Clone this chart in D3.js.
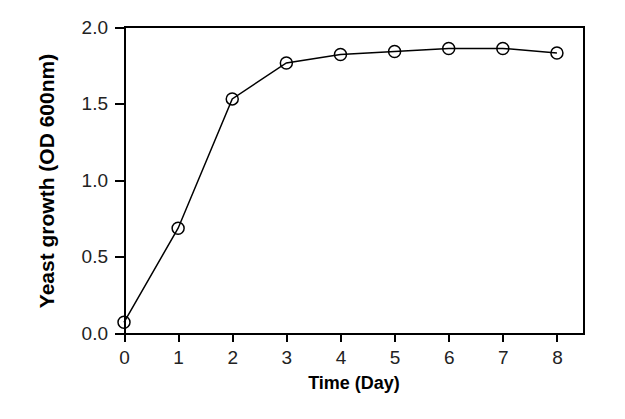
<!DOCTYPE html>
<html lang="en">
	<head>
		<meta charset="utf-8">
		<title>Yeast growth</title>
		<script src="https://d3js.org/d3.v7.min.js"></script>
		<style type="text/css">
			body { margin: 0; background: #fff; }
			.axis path,
			.axis line {
				fill: none;
				stroke: black;
				stroke-width: 2px;
				shape-rendering: crispEdges;
			}
			.axis text {
				font-family: "Liberation Sans", Arial, sans-serif;
				font-size: 19px;
				fill: #222;
			}
			.title {
				font-family: "Liberation Sans", Arial, sans-serif;
				font-weight: bold;
			}
		</style>
	</head>
	<body>
		<script type="text/javascript">
			//Size of the page
			var w = 625;
			var h = 419;
			var margin = {left: 124, right: 41, top: 27, bottom: 86};

			//Data
			var days = [0, 1, 2, 3, 4, 5, 6, 7, 8];
			var od = [0.07, 0.685, 1.53, 1.765, 1.82, 1.84, 1.86, 1.86, 1.83];
			var xTicks = [0, 1, 2, 3, 4, 5, 6, 7, 8];
			var yTicks = [0.0, 0.5, 1.0, 1.5, 2.0];

			//Scales
			var xScale = d3.scaleLinear()
				.domain([0, 8.5])
				.range([margin.left, w - margin.right]);
			var yScale = d3.scaleLinear()
				.domain([0, 2])
				.range([h - margin.bottom, margin.top]);

			var svg = d3.select("body")
				.append("svg")
				.attr("width", w)
				.attr("height", h);

			//Frame (top and right)
			svg.append("path")
				.attr("d", "M" + xScale(0) + "," + yScale(2) + "H" + xScale(8.5) + "V" + yScale(0))
				.attr("fill", "none")
				.attr("stroke", "black")
				.attr("stroke-width", 2)
				.attr("shape-rendering", "crispEdges");

			//Axes
			svg.append("g")
				.attr("class", "x axis")
				.attr("transform", "translate(0," + yScale(0) + ")")
				.call(d3.axisBottom(xScale).tickValues(xTicks).tickSize(9).tickSizeOuter(0).tickPadding(9));

			svg.append("g")
				.attr("class", "y axis")
				.attr("transform", "translate(" + xScale(0) + ",0)")
				.call(d3.axisLeft(yScale).tickValues(yTicks).tickFormat(d3.format(".1f")).tickSize(9).tickSizeOuter(0).tickPadding(7));

			//Line
			var line = d3.line()
				.x(function(d, i) { return xScale(days[i]); })
				.y(function(d) { return yScale(d); });

			svg.append("path")
				.datum(od)
				.attr("d", line)
				.attr("fill", "none")
				.attr("stroke", "black")
				.attr("stroke-width", 1.5);

			//Markers
			svg.append("g")
				.selectAll("circle")
				.data(od)
				.enter()
				.append("circle")
				.attr("cx", function(d, i) { return xScale(days[i]); })
				.attr("cy", function(d) { return yScale(d); })
				.attr("r", 6)
				.attr("fill", "none")
				.attr("stroke", "black")
				.attr("stroke-width", 1.5);

			//Titles
			svg.append("text")
				.attr("class", "title")
				.attr("x", (xScale(0) + xScale(8.5)) / 2)
				.attr("y", 389)
				.attr("font-size", "18px")
				.attr("text-anchor", "middle")
				.text("Time (Day)");

			svg.append("text")
				.attr("class", "title")
				.attr("transform", "translate(54," + ((yScale(0) + yScale(2)) / 2 + 1) + ") rotate(-90)")
				.attr("font-size", "21px")
				.attr("text-anchor", "middle")
				.text("Yeast growth (OD 600nm)");
		</script>
	</body>
</html>
